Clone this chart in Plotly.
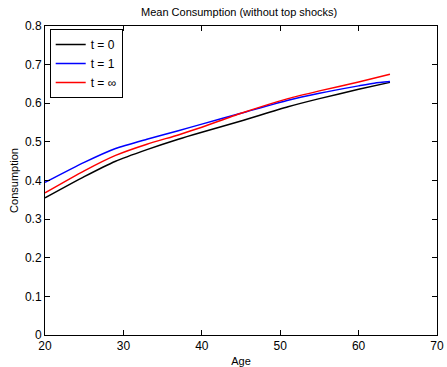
import plotly.graph_objects as go

# Mean consumption profiles by age
age_t0 = [20, 25, 29, 33, 37, 40, 45, 51, 55, 60, 64]
cons_t0 = [0.355, 0.410, 0.450, 0.480, 0.507, 0.525, 0.554, 0.591, 0.612, 0.636, 0.654]

age_t1 = [20, 25, 29, 33, 37, 40, 45, 51, 55, 60, 62, 64]
cons_t1 = [0.395, 0.447, 0.483, 0.507, 0.529, 0.546, 0.574, 0.608, 0.626, 0.645, 0.652, 0.656]

age_tinf = [20, 25, 29, 33, 37, 40, 45, 51, 55, 60, 64]
cons_tinf = [0.368, 0.425, 0.465, 0.494, 0.518, 0.538, 0.574, 0.612, 0.632, 0.655, 0.675]

series = [
    ("t = 0", age_t0, cons_t0, "black"),
    ("t = 1", age_t1, cons_t1, "blue"),
    ("t = \u221e", age_tinf, cons_tinf, "red"),
]

fig = go.Figure()
for name, x, y, color in series:
    fig.add_trace(go.Scatter(x=x, y=y, mode="lines", name=name,
                             line=dict(color=color, width=1.5, shape="spline", smoothing=0.6)))

axis_common = dict(
    showgrid=False, zeroline=False, showline=True, linecolor="black", linewidth=1,
    mirror="ticks", ticks="inside", ticklen=5, tickcolor="black",
    tickfont=dict(size=12, color="black"), automargin=False,
)

fig.update_layout(
    width=447, height=367,
    margin=dict(l=45, r=10, t=26, b=32),
    paper_bgcolor="white", plot_bgcolor="white",
    font=dict(family="Liberation Sans, Arial, sans-serif", color="black"),
    title=dict(text="Mean Consumption (without top shocks)", x=0.535, xanchor="center",
               y=0.967, yanchor="middle", font=dict(size=11)),
    xaxis=dict(range=[20, 70], tickvals=[20, 30, 40, 50, 60, 70],
               title=dict(text="Age", font=dict(size=11), standoff=4), **axis_common),
    yaxis=dict(range=[0, 0.8], tickvals=[0, 0.1, 0.2, 0.3, 0.4, 0.5, 0.6, 0.7, 0.8],
               ticktext=["0", "0.1", "0.2", "0.3", "0.4", "0.5", "0.6", "0.7", "0.8"],
               title=dict(text="Consumption", font=dict(size=11), standoff=4), **axis_common),
    legend=dict(x=0.012, y=0.99, xanchor="left", yanchor="top", bordercolor="black",
                borderwidth=1, bgcolor="white", font=dict(size=12),
                tracegroupgap=0, itemwidth=30),
    showlegend=True,
)

fig.write_html("out.html")
